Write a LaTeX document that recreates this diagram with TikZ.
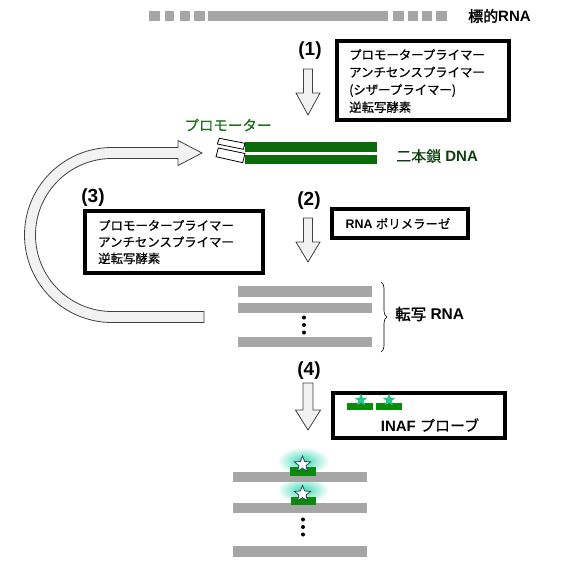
\documentclass[tikz,border=0pt]{standalone}
\usepackage{fontspec}
\setmainfont{Liberation Sans}
\newfontfamily\jp[FakeBold=0.5]{Noto Sans CJK JP}
\newfontfamily\jpb[FakeBold=2]{Noto Sans CJK JP}
\usetikzlibrary{shapes.geometric,decorations.pathreplacing}
\definecolor{rnagray}{HTML}{A6A6A6}
\definecolor{dnagreen}{HTML}{0B6B0B}
\definecolor{probegreen}{HTML}{0A8C0A}
\definecolor{starteal}{HTML}{22C795}
\definecolor{glowteal}{HTML}{3ED9B5}
\definecolor{arrowfill}{HTML}{F2F2F2}
\definecolor{labgreen}{HTML}{1E6E1E}
\definecolor{dnatext}{HTML}{0E3F0E}
\definecolor{staredge}{HTML}{1F4B5A}
\begin{document}
\begin{tikzpicture}[x=1pt,y=-1pt,
  boxstyle/.style={draw=black, line width=4pt, fill=white, inner sep=0pt, outer sep=0pt, anchor=north west},
  fatarrow/.style={draw=black!75, fill=arrowfill, line width=0.8pt, line join=miter},
  rnabar/.style={fill=rnagray},
  steplabel/.style={font=\fontsize{19}{19}\selectfont\bfseries, inner sep=0pt},
  jptext/.style={font=\jp\fontsize{12.4}{17.5}\selectfont, inner sep=0pt, align=left, anchor=west},
  probestar/.style={star, star points=5, star point ratio=2.3, minimum size=17pt, inner sep=0pt, fill=white, draw=staredge, line width=0.8pt},
  boxstar/.style={star, star points=5, star point ratio=2.3, minimum size=13pt, inner sep=0pt, fill=starteal},
  dotmark/.style={circle, fill=black, inner sep=0pt, minimum size=4pt}
]
\useasboundingbox (0,0) rectangle (580,573);

% target RNA (dashed)
\foreach \a/\b in {149/160,165/174,180/190,194/205,208/388,393/404,408/418,422/432,436/447}
  \fill[rnagray] (\a,11) rectangle (\b,21);
\node[anchor=west, inner sep=0pt] (target) at (468,16) {\fontsize{15}{15}\selectfont{\jpb 標的}\bfseries RNA};

% step (1)
\node[steplabel] (l1) at (310,51) {(1)};
\draw[fatarrow] (303.5,69) -- (312.5,69) -- (312.5,93) -- (320,93) -- (308,115) -- (296,93) -- (303.5,93) -- cycle;
\node[boxstyle, minimum width=172pt, minimum height=79pt] (box1) at (337,41) {};
\node[jptext] (t1) at (349,81) {プロモータープライマー\\アンチセンスプライマー\\(シザープライマー)\\逆転写酵素};

% double-stranded DNA
\node[inner sep=0pt, text=labgreen] (prom) at (228,125) {\jp\fontsize{14.5}{14.5}\selectfont プロモーター};
\fill[dnagreen] (245,142) rectangle (377,152);
\fill[dnagreen] (245,155) rectangle (377,164);
\draw[fill=white, line width=0.8pt] (219.3,138.3) -- (245,143.3) -- (243.3,149.3) -- (217.3,144) -- cycle;
\draw[fill=white, line width=0.8pt] (218.3,148) -- (245,153.5) -- (242.7,162.7) -- (216,156.7) -- cycle;
\node[anchor=west, inner sep=0pt, text=dnatext] (dna) at (396,156) {\fontsize{15}{15}\selectfont{\jp 二本鎖} \bfseries DNA};

% curved return arrow (3)
\draw[fatarrow] (204,322.5) -- (112,322.5) arc[start angle=270, end angle=90, radius=87.5pt]
  -- (178,147.5) -- (178,140.5) -- (202,153) -- (178,165.5) -- (178,158.5) -- (112,158.5)
  arc[start angle=90, end angle=270, radius=76.5pt] -- (204,311.5) -- cycle;

% step (3)
\node[steplabel] (l3) at (93,198) {(3)};
\node[boxstyle, minimum width=178pt, minimum height=62pt] (box3) at (85,211) {};
\node[jptext, font=\jp\fontsize{12.4}{16.5}\selectfont] (t3) at (98,242) {プロモータープライマー\\アンチセンスプライマー\\逆転写酵素};

% step (2)
\node[steplabel] (l2) at (309,201) {(2)};
\draw[fatarrow] (303.5,218) -- (312.5,218) -- (312.5,242) -- (320,242) -- (308,262) -- (296,242) -- (303.5,242) -- cycle;
\node[boxstyle, minimum width=136pt, minimum height=29pt] (box2) at (332,209) {};
\node[inner sep=0pt] (t2) at (398,223.5) {\fontsize{12.4}{14}\selectfont\bfseries RNA {\jp\mdseries ポリメラーゼ}};

% transcribed RNA
\fill[rnagray] (238,286) rectangle (372,297);
\fill[rnagray] (238,303) rectangle (372,313);
\fill[rnagray] (238,337) rectangle (372,347);
\node[dotmark] (d1) at (304,317.5) {};
\node[dotmark] (d2) at (304,325) {};
\node[dotmark] (d3) at (304,332.5) {};
\coordinate (bt) at (381,282);
\coordinate (bb) at (381,352);
\draw[decorate, decoration={brace, amplitude=6pt}, line width=0.6pt] (bt) -- (bb);
\node[anchor=west, inner sep=0pt] (trna) at (395,314) {\fontsize{15.5}{15.5}\selectfont{\jpb 転写} \bfseries RNA};

% step (4)
\node[steplabel] (l4) at (309,370.5) {(4)};
\draw[fatarrow] (303,383) -- (313,383) -- (313,410) -- (320.5,410) -- (308,430) -- (295.5,410) -- (303,410) -- cycle;
\node[boxstyle, minimum width=172pt, minimum height=45pt] (box4) at (333,393) {};
\fill[probegreen] (347,403) rectangle (373,409.5);
\fill[probegreen] (376,403) rectangle (402,409.5);
\node[boxstar] (bs1) at (361,400) {};
\node[boxstar] (bs2) at (389,400) {};
\node[inner sep=0pt] (t4) at (430,425) {\fontsize{15}{15}\selectfont\bfseries INAF {\jp\mdseries プローブ}};

% hybridised probes
\shade[inner color=glowteal, outer color=white] (303,461) ellipse (26pt and 14pt);
\shade[inner color=glowteal, outer color=white] (303,490) ellipse (26pt and 13pt);
\fill[rnagray] (233,472) rectangle (367,482);
\fill[rnagray] (233,503) rectangle (367,513);
\fill[rnagray] (233,546) rectangle (367,557);
\fill[probegreen] (290,467.3) rectangle (315.7,475.7);
\fill[probegreen] (290.7,497.3) rectangle (315.7,505);
\node[probestar] (ps1) at (302.5,464.5) {};
\node[probestar] (ps2) at (302.5,494) {};
\node[dotmark] (e1) at (303,519.5) {};
\node[dotmark] (e2) at (303,527) {};
\node[dotmark] (e3) at (303,534.5) {};
\end{tikzpicture}
\end{document}
